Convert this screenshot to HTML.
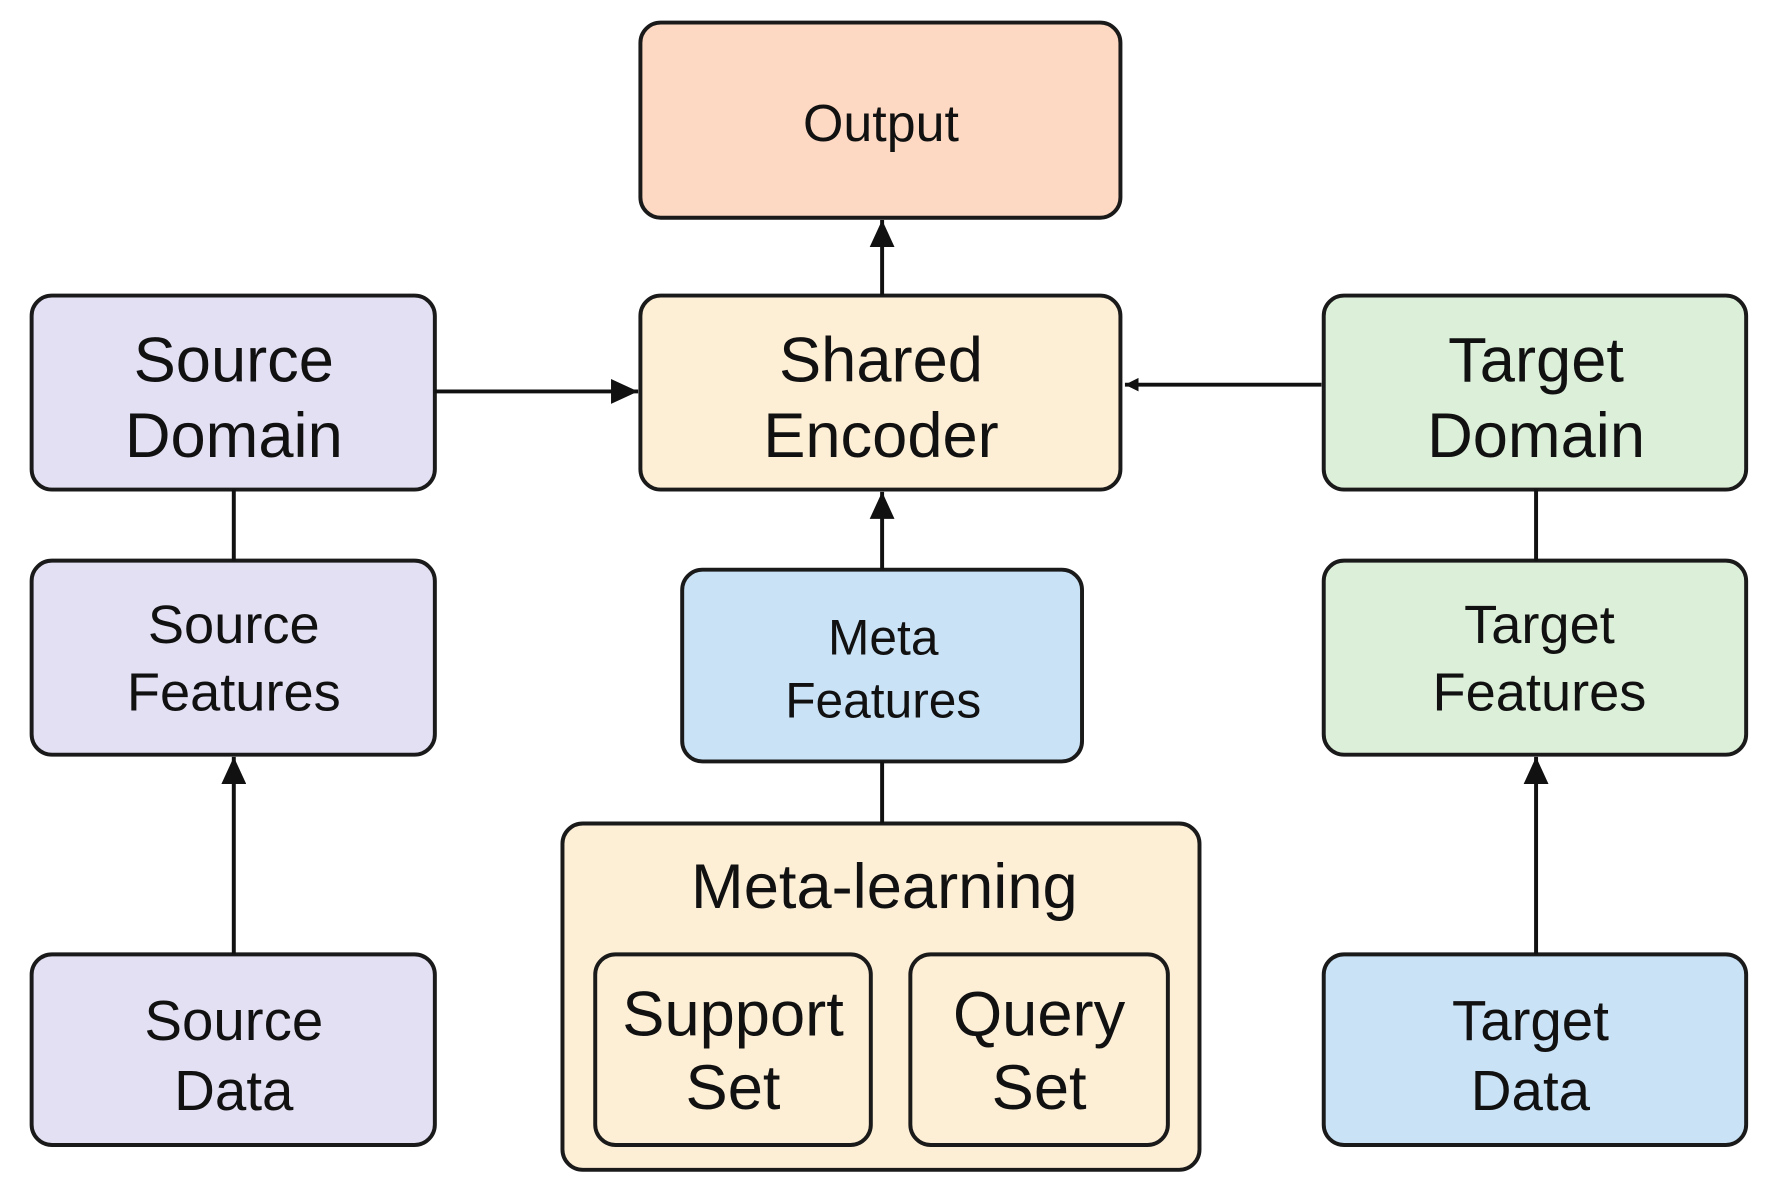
<!DOCTYPE html>
<html><head><meta charset="utf-8"><style>
html,body{margin:0;padding:0;background:#fff;}
svg{display:block;}
text{font-family:"Liberation Sans",Arial,sans-serif;fill:#111;text-anchor:middle;}
</style></head><body>
<svg width="1771" height="1198" viewBox="0 0 1568 1062" preserveAspectRatio="none" xmlns="http://www.w3.org/2000/svg">
<defs>
<marker id="ah" markerWidth="24" markerHeight="22" refX="10" refY="5" orient="auto" markerUnits="userSpaceOnUse" viewBox="0 0 10 10" preserveAspectRatio="none">
<path d="M0,0 L10,5 L0,10 z" fill="#111"/>
</marker>
<marker id="as" markerWidth="12" markerHeight="12" refX="10" refY="5" orient="auto" markerUnits="userSpaceOnUse" viewBox="0 0 10 10" preserveAspectRatio="none">
<path d="M0,0 L10,5 L0,10 z" fill="#111"/>
</marker>
</defs>
<rect width="1568" height="1062" fill="#fff"/>
<g stroke="#1a1a1a" stroke-width="3.5">
<rect x="567" y="20" width="425" height="173" rx="18" fill="#fdd9c3"/>
<rect x="567" y="262" width="425" height="172" rx="18" fill="#fdefd6"/>
<rect x="28" y="262" width="357" height="172" rx="18" fill="#e3e0f3"/>
<rect x="1172" y="262" width="374" height="172" rx="18" fill="#dcefd9"/>
<rect x="28" y="497" width="357" height="172" rx="18" fill="#e3e0f3"/>
<rect x="604" y="505" width="354" height="170" rx="18" fill="#c9e2f6"/>
<rect x="1172" y="497" width="374" height="172" rx="18" fill="#dcefd9"/>
<rect x="498" y="730" width="564" height="307" rx="18" fill="#fdefd6"/>
<rect x="527" y="846" width="244" height="169" rx="18" fill="#fdefd6"/>
<rect x="806" y="846" width="228" height="169" rx="18" fill="#fdefd6"/>
<rect x="28" y="846" width="357" height="169" rx="18" fill="#e3e0f3"/>
<rect x="1172" y="846" width="374" height="169" rx="18" fill="#c9e2f6"/>
</g>
<g stroke="#111" stroke-width="3.5" fill="none">
<line x1="385" y1="347" x2="565" y2="347" marker-end="url(#ah)"/>
<line x1="1170" y1="341" x2="996" y2="341" marker-end="url(#as)"/>
<line x1="781" y1="262" x2="781" y2="195" marker-end="url(#ah)"/>
<line x1="781" y1="505" x2="781" y2="436" marker-end="url(#ah)"/>
<line x1="781" y1="675" x2="781" y2="730"/>
<line x1="207" y1="434" x2="207" y2="497"/>
<line x1="1360" y1="434" x2="1360" y2="497"/>
<line x1="207" y1="846" x2="207" y2="671" marker-end="url(#ah)"/>
<line x1="1360" y1="846" x2="1360" y2="671" marker-end="url(#ah)"/>
</g>
<text x="780" y="125" font-size="46">Output</text>
<text x="780" y="338" font-size="56">Shared</text>
<text x="780" y="405" font-size="56">Encoder</text>
<text x="207" y="338" font-size="56">Source</text>
<text x="207" y="405" font-size="56">Domain</text>
<text x="1360" y="338" font-size="56">Target</text>
<text x="1360" y="405" font-size="56">Domain</text>
<text x="207" y="570" font-size="48">Source</text>
<text x="207" y="630" font-size="48">Features</text>
<text x="1363" y="570" font-size="48">Target</text>
<text x="1363" y="630" font-size="48">Features</text>
<text x="782" y="580" font-size="44">Meta</text>
<text x="782" y="636" font-size="44">Features</text>
<text x="783" y="805" font-size="56">Meta-learning</text>
<text x="649" y="918" font-size="56">Support</text>
<text x="649" y="983" font-size="56">Set</text>
<text x="920" y="918" font-size="56">Query</text>
<text x="920" y="983" font-size="56">Set</text>
<text x="207" y="922" font-size="50">Source</text>
<text x="207" y="984" font-size="50">Data</text>
<text x="1355" y="922" font-size="50">Target</text>
<text x="1355" y="984" font-size="50">Data</text>
</svg>
</body></html>
